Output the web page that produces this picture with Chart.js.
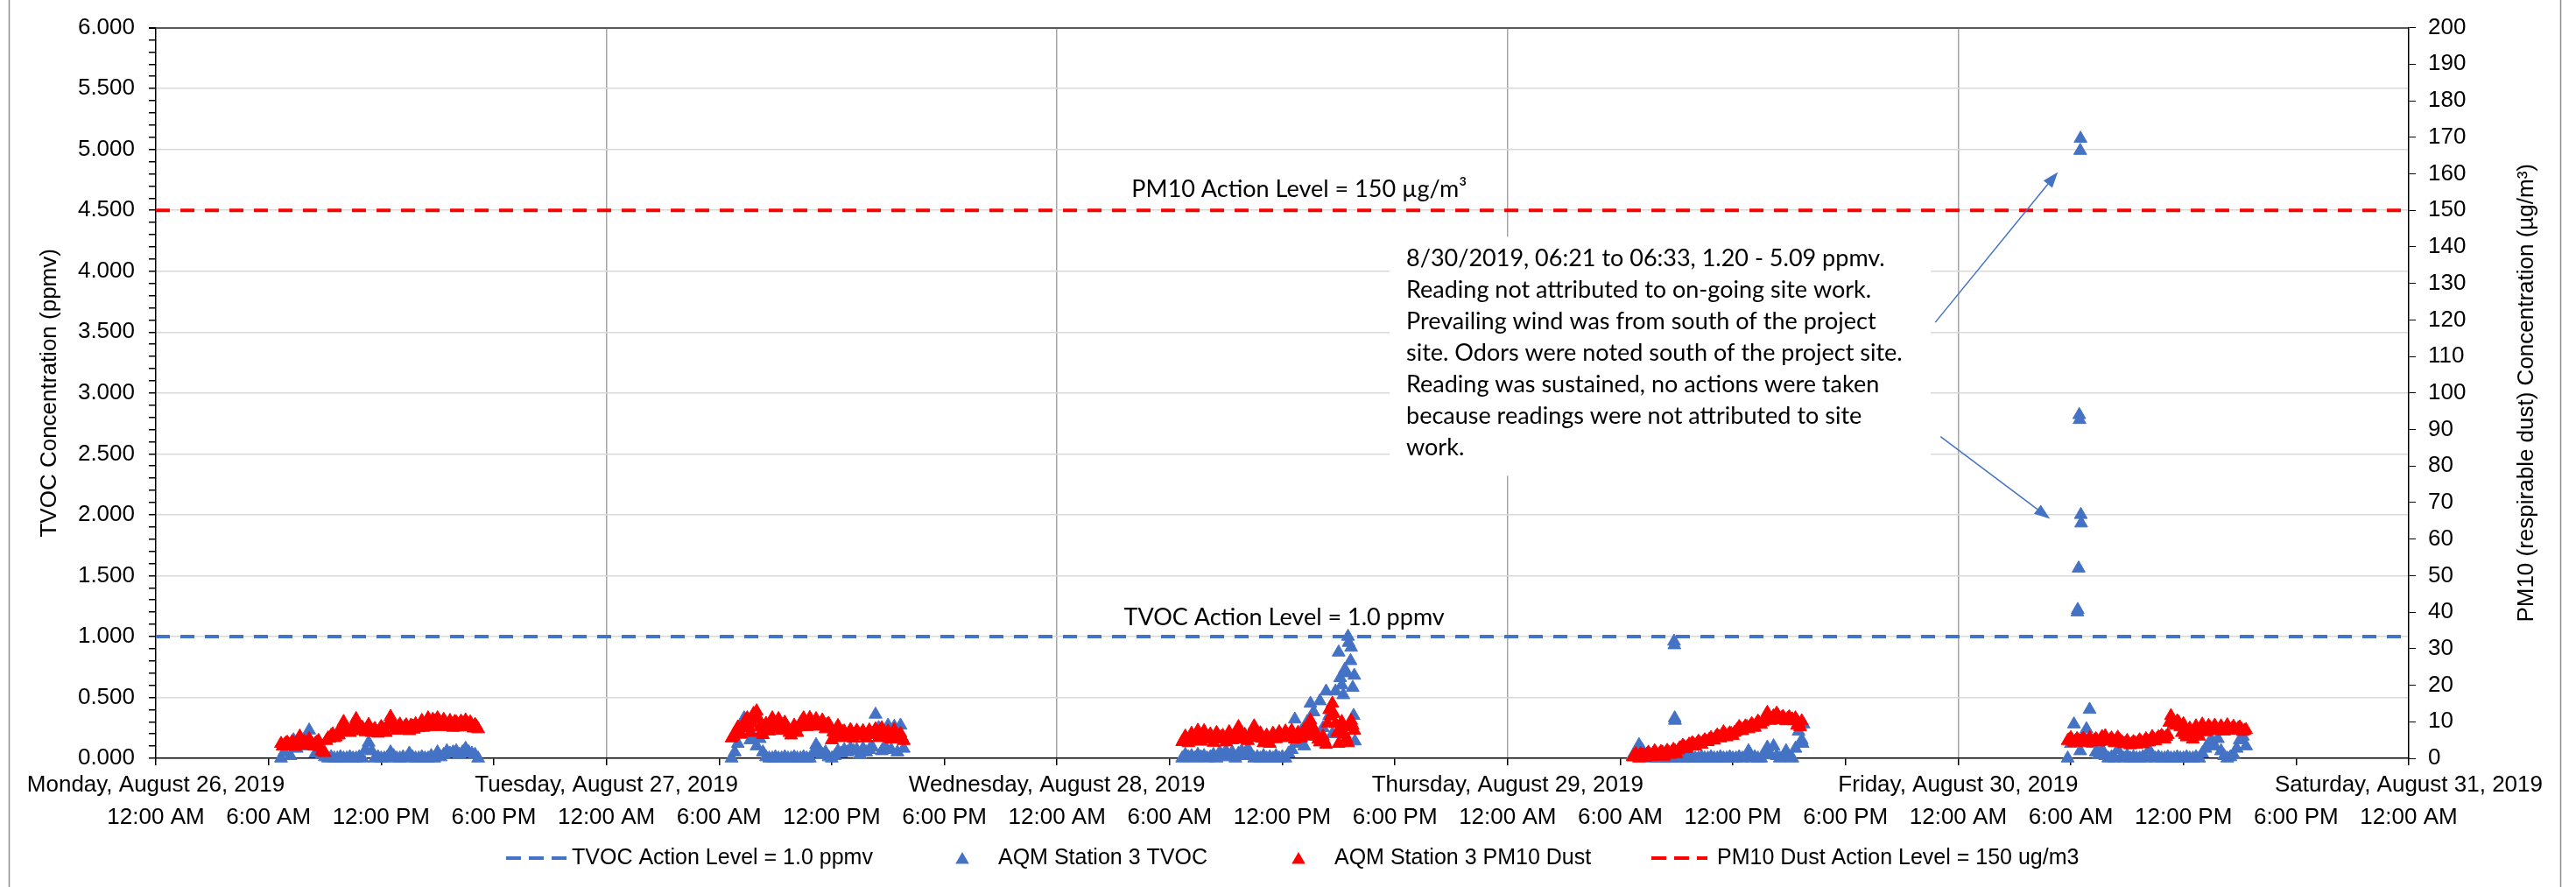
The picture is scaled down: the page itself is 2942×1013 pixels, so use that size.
<!DOCTYPE html>
<html>
<head>
<meta charset="utf-8">
<title>AQM Station 3 - TVOC and PM10</title>
<script src="https://cdn.jsdelivr.net/npm/chart.js@4.4.1/dist/chart.umd.min.js"></script>
<style>
    html, body { margin: 0; padding: 0; background: #fff; }
    #wrap { width: 2942px; height: 1013px; position: relative; }
</style>
</head>
<body>
<div id="wrap"><canvas id="myChart"></canvas></div>
<script>
// axis labels
var dayNames = ['Monday, August 26, 2019', 'Tuesday, August 27, 2019', 'Wednesday, August 28, 2019',
    'Thursday, August 29, 2019', 'Friday, August 30, 2019', 'Saturday, August 31, 2019'];
var timeNames = ['12:00 AM', '6:00 AM', '12:00 PM', '6:00 PM'];

var tvocActionLevel = 1.0;   // ppmv
var pm10ActionLevel = 150;   // ug/m3

// readings every 10 minutes from the start time of each day,
// the *Mid lists are the PM10 readings 5 minutes after each of those
var mondayStart = '06:40';
var mondayTvoc = [0.00,0.05,0.12,0.02,0.15,0.08,0.17,0.10,0.14,0.23,
    0.12,0.04,0.05,0.03,0.01,0.00,0.01,0.00,0.00,0.01,
    0.00,0.00,0.01,0.00,0.00,0.01,0.00,0.07,0.13,0.06,
    0.00,0.01,0.00,0.00,0.01,0.05,0.02,0.00,0.00,0.01,
    0.00,0.04,0.01,0.00,0.00,0.01,0.00,0.00,0.02,0.00,
    0.05,0.01,0.03,0.06,0.04,0.05,0.06,0.03,0.05,0.08,
    0.05,0.04,0.03,0.00];
var mondayPm10 = [4.0,3.6,4.3,3.4,4.2,3.8,6.0,4.4,3.5,5.3,
    3.7,4.1,4.8,2.0,1.5,5.5,6.2,5.6,6.9,7.4,
    10.0,8.1,7.0,8.6,10.8,8.2,8.4,7.2,9.2,7.0,
    8.1,6.8,8.6,7.4,8.9,11.4,9.0,7.6,9.3,8.0,
    9.1,7.5,8.8,9.4,8.3,10.3,9.0,11.0,9.6,10.2,
    11.0,9.4,10.6,9.0,10.3,8.4,9.9,8.5,9.6,10.4,
    9.0,8.6,9.2,8.0];
var mondayPm10Mid = [3.3,4.1,3.8,4.5,3.2,5.1,3.6,4.6,4.0,4.5,
    3.3,4.4,3.0,1.8,4.8,5.4,6.6,5.8,6.3,8.6,
    8.8,7.6,8.0,9.4,9.0,7.5,7.8,8.3,7.8,7.6,
    7.3,7.8,8.2,7.0,9.8,10.0,8.2,8.6,7.8,8.6,
    8.3,9.0,7.9,8.6,9.2,8.4,9.8,8.6,10.6,8.8,
    10.4,8.6,9.8,8.8,9.2,10.0,9.2,10.1,8.8,9.7,
    9.9,8.2,8.7];

var tuesdayStart = '06:40';
var tuesdayTvoc = [0.00,0.05,0.12,0.20,0.33,0.26,0.15,0.18,0.10,0.16,
    0.05,0.01,0.00,0.00,0.01,0.00,0.00,0.01,0.00,0.00,
    0.01,0.00,0.00,0.01,0.00,0.00,0.04,0.11,0.07,0.03,
    0.05,0.01,0.00,0.02,0.06,0.04,0.07,0.05,0.08,0.06,
    0.07,0.03,0.08,0.05,0.07,0.09,0.36,0.25,0.06,0.10,
    0.27,0.07,0.26,0.05,0.27,0.08];
var tuesdayPm10 = [5.5,6.8,8.5,6.5,9.8,11.0,7.0,12.2,12.9,8.5,
    6.4,9.5,7.4,11.0,8.0,10.8,7.6,9.8,8.2,6.3,
    9.0,7.0,9.6,11.0,8.6,11.1,9.2,10.8,8.7,10.4,
    8.0,9.5,5.0,7.0,8.9,5.6,7.4,6.0,7.8,5.4,
    7.6,6.2,7.5,5.5,7.7,6.4,8.0,5.6,8.3,6.0,
    7.4,5.2,7.8,5.5,6.8,4.8];
var tuesdayPm10Mid = [6.0,7.5,7.2,8.2,10.5,8.6,9.6,10.6,11.0,7.2,
    8.0,8.5,9.4,9.2,9.0,8.8,8.6,9.0,7.0,7.6,
    8.2,8.6,10.2,9.4,9.8,10.0,8.8,9.6,9.2,9.0,
    9.2,8.6,7.2,6.0,7.6,7.2,6.4,6.8,6.6,6.8,
    6.9,6.8,6.4,6.6,6.9,7.2,6.8,7.0,7.1,6.6,
    6.3,6.6,6.2,5.9,5.6];

var wednesdayStart = '06:40';
var wednesdayTvoc = [0.00,0.03,0.01,0.02,0.00,0.03,0.01,0.02,0.00,0.01,
    0.03,0.00,0.05,0.02,0.06,0.01,0.05,0.00,0.04,0.06,
    0.02,0.08,0.03,0.00,0.01,0.00,0.02,0.00,0.01,0.00,
    0.02,0.00,0.01,0.00,0.04,0.07,0.32,0.12,0.22,0.10,
    0.30,0.45,0.38,0.18,0.47,0.25,0.55,0.35,0.20,0.55,
    0.87,0.60,0.73,1.00,0.91,0.68];
var wednesdayPm10 = [4.5,6.0,4.2,6.8,5.0,7.6,4.6,7.5,5.2,6.6,
    4.3,7.0,5.5,6.2,4.4,7.2,5.0,6.8,8.6,5.2,
    6.5,4.8,7.0,8.8,5.6,6.9,4.2,6.3,4.0,6.8,
    5.3,7.2,5.6,7.4,5.9,7.6,5.2,7.0,5.5,7.8,
    6.0,10.4,8.0,6.2,4.4,6.0,3.8,13.3,15.0,9.5,
    4.0,10.0,6.5,4.2,10.3,7.6];
var wednesdayPm10Mid = [5.2,5.0,5.5,5.8,6.2,6.0,6.1,6.2,5.8,5.4,
    5.6,6.2,5.8,5.2,5.6,6.0,5.6,7.2,6.6,5.8,
    5.6,5.8,7.4,6.8,6.0,5.4,5.0,5.2,5.4,6.0,
    6.2,6.4,6.4,6.6,6.7,6.2,6.0,6.2,6.4,6.6,
    8.0,9.0,7.0,5.2,5.0,4.8,9.6,11.5,12.2,7.0,
    8.0,8.6,5.4,8.6,9.0];
var wednesdayExtraTimes = ['15:05','15:15','15:25','15:32','15:38','15:45','15:48','15:52'];
var wednesdayExtraTvoc = [0.66,0.52,0.70,0.95,0.80,0.58,0.35,0.14];

var thursdayStart = '06:40';
var thursdayTvoc = [0.02,0.05,0.11,0.07,0.02,0.04,0.00,0.01,0.00,0.00,
    0.01,0.00,0.00,0.01,0.00,0.00,0.01,0.00,0.00,0.01,
    0.00,0.00,0.01,0.00,0.00,0.01,0.00,0.00,0.01,0.00,
    0.00,0.01,0.00,0.00,0.01,0.00,0.01,0.06,0.00,0.01,
    0.00,0.00,0.04,0.09,0.03,0.10,0.02,0.00,0.01,0.06,
    0.01,0.00,0.08,0.22,0.15];
var thursdayPm10 = [0.3,1.2,0.0,0.8,0.2,1.6,0.4,2.0,0.6,1.8,
    0.5,2.1,1.0,2.4,1.2,2.8,3.5,2.6,3.8,4.2,
    3.3,4.6,3.8,5.0,4.5,5.6,4.9,6.3,5.5,7.2,
    5.8,6.9,6.2,7.4,8.6,7.5,8.8,8.0,9.4,8.4,
    10.1,9.2,10.6,12.5,10.3,11.6,12.3,10.5,11.4,10.2,
    11.3,10.7,11.0,9.6,10.2];
var thursdayPm10Mid = [0.8,0.5,1.2,0.9,1.1,1.0,1.3,1.4,1.2,1.6,
    1.5,1.6,1.8,2.0,2.2,2.9,3.1,3.2,3.6,3.8,
    4.0,4.2,4.5,4.6,5.2,5.0,5.8,5.9,6.4,6.5,
    6.4,6.7,7.0,8.0,8.1,8.2,8.6,8.8,8.9,9.4,
    9.6,9.9,11.5,11.2,10.8,11.0,11.6,11.0,10.8,10.9,
    10.4,10.2,9.0,8.6];
var thursdayExtraTimes = ['08:52','08:53','08:54','08:55','15:43','15:46'];
var thursdayExtraTvoc = [0.96,0.93,0.33,0.31,0.12,0.28];

var fridayStart = '05:50';
var fridayTvoc = [0.00,0.12,0.28,0.16,0.06,0.18,0.24,0.40,0.12,0.05,
    0.03,0.07,0.02,0.00,0.01,0.00,0.07,0.01,0.00,0.02,
    0.00,0.01,0.00,0.00,0.01,0.00,0.07,0.02,0.00,0.01,
    0.00,0.00,0.01,0.00,0.00,0.01,0.00,0.00,0.01,0.00,
    0.00,0.01,0.00,0.04,0.08,0.12,0.15,0.10,0.16,0.06,
    0.02,0.00,0.01,0.03,0.08,0.15,0.18,0.10];
var fridayPm10 = [4.8,5.6,4.3,5.2,4.6,5.4,4.2,5.6,4.5,5.3,
    4.4,5.9,6.1,4.6,5.5,4.2,5.7,4.6,3.9,4.8,
    3.6,4.5,3.8,5.0,3.9,5.3,4.4,5.9,4.7,5.8,
    6.2,5.2,6.4,11.6,9.5,10.2,8.6,9.4,5.8,8.2,
    5.2,8.8,6.0,9.3,7.2,8.9,7.8,9.0,7.5,8.8,
    7.4,9.1,7.8,8.7,7.6,8.5,7.3,7.8];
var fridayPm10Mid = [5.1,4.9,4.8,4.9,5.0,4.8,4.9,5.0,4.9,4.8,
    5.2,5.3,5.2,5.0,4.9,5.0,5.1,4.3,4.2,4.1,
    4.0,4.2,4.4,4.5,4.6,4.8,5.1,5.2,5.3,5.6,
    5.8,5.9,9.8,10.6,9.0,9.8,7.0,6.4,6.6,7.0,
    6.8,7.4,8.0,8.2,8.0,8.4,8.3,8.2,8.0,8.1,
    8.2,8.3,8.1,8.0,8.2,8.0,7.6];
// the 8/30 06:21 - 06:33 event
var fridayEventTimes = ['06:21','06:22','06:25','06:27','06:28','06:30','06:31','06:32','06:33'];
var fridayEventTvoc = [1.20,1.22,1.56,2.82,2.78,4.99,5.09,2.00,1.93];

var blue = '#4472C4';
var red = '#FF0000';
var axisFont = 'Liberation Sans, Arial, sans-serif';
var noteFont = 'Lato, "Open Sans", sans-serif';

function toHours(day, hhmm) {
    var p = hhmm.split(':');
    return day * 24 + parseInt(p[0], 10) + parseInt(p[1], 10) / 60;
}
// offsetMin: minutes after the start time of the first reading
function series(day, start, values, offsetMin) {
    var h0 = toHours(day, start) + (offsetMin || 0) / 60;
    return values.map(function(v, i) { return {x: h0 + i / 6, y: v}; });
}
function extras(day, times, values) {
    return times.map(function(t, i) { return {x: toHours(day, t), y: values[i]}; });
}
function isHalf(v) { return Math.abs(v * 2 - Math.round(v * 2)) < 1e-6; }

var tvocPoints = [].concat(
    series(0, mondayStart, mondayTvoc),
    series(1, tuesdayStart, tuesdayTvoc),
    series(2, wednesdayStart, wednesdayTvoc),
    extras(2, wednesdayExtraTimes, wednesdayExtraTvoc),
    series(3, thursdayStart, thursdayTvoc),
    extras(3, thursdayExtraTimes, thursdayExtraTvoc),
    series(4, fridayStart, fridayTvoc),
    extras(4, fridayEventTimes, fridayEventTvoc));
var pm10Points = [].concat(
    series(0, mondayStart, mondayPm10), series(0, mondayStart, mondayPm10Mid, 5),
    series(1, tuesdayStart, tuesdayPm10), series(1, tuesdayStart, tuesdayPm10Mid, 5),
    series(2, wednesdayStart, wednesdayPm10), series(2, wednesdayStart, wednesdayPm10Mid, 5),
    series(3, thursdayStart, thursdayPm10), series(3, thursdayStart, thursdayPm10Mid, 5),
    series(4, fridayStart, fridayPm10), series(4, fridayStart, fridayPm10Mid, 5));

var xMax = (dayNames.length - 1) * 24;

// text boxes and arrows, placed in data units (hours, ppmv)
var notes = {
    pm10Label: {x: 60.9, y: 4.61, text: 'PM10 Action Level = 150 \u00b5g/m\u00b3'},
    tvocLabel: {x: 60.1, y: 1.094, text: 'TVOC Action Level = 1.0 ppmv'},
    box: {x0: 65.72, x1: 94.54, y0: 4.283, y1: 2.32},
    boxText: {x: 66.6, y: 4.04, lines: [
        '8/30/2019, 06:21 to 06:33, 1.20 - 5.09 ppmv.',
        'Reading not attributed to on-going site work.',
        'Prevailing wind was from south of the project',
        'site. Odors were noted south of the project site.',
        'Reading was sustained, no actions were taken',
        'because readings were not attributed to site',
        'work.']},
    arrows: [
        {x0: 94.78, y0: 3.58, x1: 101.31, y1: 4.815},
        {x0: 95.06, y0: 2.642, x1: 100.89, y1: 1.967}]
};

var legendItems = [
    {label: 'TVOC Action Level = 1.0 ppmv', kind: 'dash', color: blue, x0: 578, x1: 647, tx: 653},
    {label: 'AQM Station 3 TVOC', kind: 'tri', color: blue, x0: 1099, tx: 1140},
    {label: 'AQM Station 3 PM10 Dust', kind: 'tri', color: red, x0: 1483, tx: 1524},
    {label: 'PM10 Dust Action Level = 150 ug/m3', kind: 'dash', color: red, x0: 1886, x1: 1950, tx: 1961}
];

function drawTriangle(ctx, x, y, r) {
    ctx.beginPath();
    ctx.moveTo(x, y - r);
    ctx.lineTo(x + r * 0.866, y + r / 2);
    ctx.lineTo(x - r * 0.866, y + r / 2);
    ctx.closePath();
    ctx.fill();
}

function drawArrow(ctx, x0, y0, x1, y1) {
    var a = Math.atan2(y1 - y0, x1 - x0);
    var len = 18, half = 6.5;
    var bx = x1 - len * Math.cos(a), by = y1 - len * Math.sin(a);
    ctx.beginPath();
    ctx.moveTo(x0, y0);
    ctx.lineTo(bx, by);
    ctx.stroke();
    ctx.beginPath();
    ctx.moveTo(x1, y1);
    ctx.lineTo(bx + half * Math.sin(a), by - half * Math.cos(a));
    ctx.lineTo(bx - half * Math.sin(a), by + half * Math.cos(a));
    ctx.closePath();
    ctx.fill();
}

var notesPlugin = {
    id: 'notes',
    beforeDatasetsDraw: function(chart) {
        var ctx = chart.ctx, x = chart.scales.x, y = chart.scales.y;
        var b = notes.box;
        var l = x.getPixelForValue(b.x0), r = x.getPixelForValue(b.x1);
        var t = y.getPixelForValue(b.y0), btm = y.getPixelForValue(b.y1);
        ctx.save();
        ctx.fillStyle = '#fff';
        ctx.fillRect(l, t, r - l, btm - t);
        ctx.restore();
    },
    afterDatasetsDraw: function(chart) {
        var ctx = chart.ctx, x = chart.scales.x, y = chart.scales.y;
        ctx.save();
        ctx.fillStyle = '#000';
        ctx.font = '27px ' + noteFont;
        ctx.textBaseline = 'alphabetic';
        ctx.textAlign = 'center';
        [notes.pm10Label, notes.tvocLabel].forEach(function(n) {
            ctx.fillText(n.text, x.getPixelForValue(n.x), y.getPixelForValue(n.y));
        });
        ctx.textAlign = 'left';
        var bt = notes.boxText;
        var tx = x.getPixelForValue(bt.x), ty = y.getPixelForValue(bt.y);
        bt.lines.forEach(function(line, i) {
            ctx.fillText(line, tx, ty + i * 36);
        });
        ctx.strokeStyle = blue;
        ctx.fillStyle = blue;
        ctx.lineWidth = 1.5;
        notes.arrows.forEach(function(a) {
            drawArrow(ctx, x.getPixelForValue(a.x0), y.getPixelForValue(a.y0),
                x.getPixelForValue(a.x1), y.getPixelForValue(a.y1));
        });
        ctx.restore();
    },
    afterDraw: function(chart) {
        var ctx = chart.ctx, area = chart.chartArea;
        var midY = (area.top + area.bottom) / 2;
        ctx.save();
        // axis titles, both read bottom to top
        ctx.fillStyle = '#000';
        ctx.font = '26px ' + axisFont;
        ctx.textAlign = 'center';
        ctx.textBaseline = 'middle';
        ctx.translate(57, midY);
        ctx.rotate(-Math.PI / 2);
        ctx.fillText('TVOC Concentration (ppmv)', 0, 0);
        ctx.setTransform(1, 0, 0, 1, 0, 0);
        ctx.translate(2886, midY);
        ctx.rotate(-Math.PI / 2);
        ctx.fillText('PM10 (respirable dust) Concentration (\u00b5g/m\u00b3)', 0, 0);
        ctx.setTransform(1, 0, 0, 1, 0, 0);

        // legend
        var ly = 980;
        ctx.font = '25px ' + axisFont;
        ctx.textAlign = 'left';
        legendItems.forEach(function(it) {
            ctx.fillStyle = it.color;
            ctx.strokeStyle = it.color;
            if (it.kind === 'dash') {
                ctx.lineWidth = 4;
                ctx.setLineDash([17, 9]);
                ctx.beginPath();
                ctx.moveTo(it.x0, ly);
                ctx.lineTo(it.x1, ly);
                ctx.stroke();
                ctx.setLineDash([]);
            } else {
                drawTriangle(ctx, it.x0, ly + 2, 9);
            }
            ctx.fillStyle = '#000';
            ctx.fillText(it.label, it.tx, ly);
        });

        // outer frame of the chart object
        ctx.strokeStyle = '#8c8c8c';
        ctx.lineWidth = 1.5;
        ctx.beginPath();
        ctx.moveTo(10.5, 0);
        ctx.lineTo(10.5, 1013);
        ctx.moveTo(2924.5, 0);
        ctx.lineTo(2924.5, 1013);
        ctx.stroke();
        ctx.restore();
    }
};

var tickFont = {family: axisFont, size: 26};

var ctx = document.getElementById('myChart').getContext('2d');
var chart = new Chart(ctx, {
    type: 'scatter',
    data: {
        datasets: [
            {
                label: 'AQM Station 3 PM10 Dust',
                data: pm10Points,
                yAxisID: 'y2',
                pointStyle: 'triangle',
                pointRadius: 8.5,
                borderWidth: 1,
                backgroundColor: red,
                borderColor: red,
                clip: false,
                order: 0
            },
            {
                label: 'AQM Station 3 TVOC',
                data: tvocPoints,
                yAxisID: 'y',
                pointStyle: 'triangle',
                pointRadius: 8.5,
                borderWidth: 1,
                backgroundColor: blue,
                borderColor: blue,
                clip: false,
                order: 1
            },
            {
                label: 'TVOC Action Level = 1.0 ppmv',
                data: [{x: 0, y: tvocActionLevel}, {x: xMax, y: tvocActionLevel}],
                yAxisID: 'y',
                showLine: true,
                pointRadius: 0,
                borderColor: blue,
                borderWidth: 4,
                borderDash: [16, 12],
                order: 2
            },
            {
                label: 'PM10 Dust Action Level = 150 ug/m3',
                data: [{x: 0, y: pm10ActionLevel}, {x: xMax, y: pm10ActionLevel}],
                yAxisID: 'y2',
                showLine: true,
                pointRadius: 0,
                borderColor: red,
                borderWidth: 4,
                borderDash: [16, 12],
                order: 3
            }
        ]
    },
    options: {
        responsive: true,
        maintainAspectRatio: false,
        animation: false,
        events: [],
        layout: {padding: {top: 21, left: 0, right: 0, bottom: 0}},
        plugins: {legend: {display: false}, tooltip: {enabled: false}},
        scales: {
            x: {
                type: 'linear',
                min: 0,
                max: xMax,
                afterFit: function(s) { s.height = 147; },
                border: {color: '#000', width: 1.5},
                grid: {
                    color: function(c) {
                        var v = c.tick.value;
                        return (v % 24 === 0 && v > 0 && v < xMax) ? '#a6a6a6' : 'rgba(0,0,0,0)';
                    },
                    lineWidth: 1.5,
                    tickColor: '#000',
                    tickLength: 8
                },
                ticks: {
                    stepSize: 6,
                    autoSkip: false,
                    maxRotation: 0,
                    padding: 5,
                    color: '#000',
                    font: {family: axisFont, size: 26, lineHeight: 1.4},
                    callback: function(v) {
                        var h = v % 24;
                        var t = timeNames[Math.round(h / 6)];
                        return h === 0 ? [dayNames[v / 24], t] : ['', t];
                    }
                }
            },
            y: {
                position: 'left',
                min: 0,
                max: 6,
                afterFit: function(s) { s.width = 178; },
                border: {color: '#000', width: 1.5},
                grid: {
                    color: function(c) {
                        var v = c.tick.value;
                        if (Math.abs(v - 6) < 1e-6) return '#595959';
                        return (isHalf(v) && v > 0.01) ? '#d9d9d9' : 'rgba(0,0,0,0)';
                    },
                    lineWidth: function(c) { return Math.abs(c.tick.value - 6) < 1e-6 ? 2 : 1.5; },
                    tickColor: '#000',
                    tickLength: 8
                },
                ticks: {
                    stepSize: 0.1,
                    autoSkip: false,
                    padding: 16,
                    color: '#000',
                    font: tickFont,
                    callback: function(v) { return isHalf(v) ? v.toFixed(3) : ''; }
                }
            },
            y2: {
                position: 'right',
                min: 0,
                max: 200,
                afterFit: function(s) { s.width = 191; },
                border: {color: '#000', width: 1.5},
                grid: {drawOnChartArea: false, tickColor: '#000', tickLength: 8},
                ticks: {
                    stepSize: 10,
                    autoSkip: false,
                    padding: 14,
                    color: '#000',
                    font: tickFont
                }
            }
        }
    },
    plugins: [notesPlugin]
});
</script>
</body>
</html>
